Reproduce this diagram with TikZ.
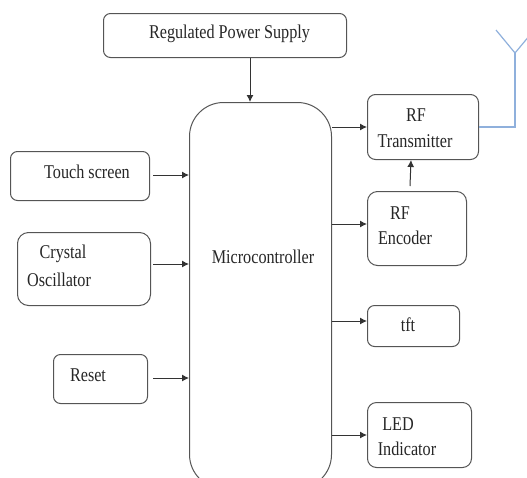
\documentclass[tikz,border=0pt]{standalone}
\usepackage{fontspec}
\setmainfont{Liberation Serif}
\usetikzlibrary{arrows.meta}
\definecolor{edge}{HTML}{555555}
\definecolor{ant}{HTML}{8FB0DC}
\tikzset{
  blk/.style={draw=edge,line width=1pt,rounded corners=#1,inner sep=0pt,anchor=north west},
  blk/.default=7pt,
  lab/.style={inner sep=0pt,font=\fontsize{19.5}{21}\selectfont,text=black!85,xscale=0.83,align=left},
  arr/.style={draw=black!80,line width=1pt,-{Latex[length=7pt,width=7pt]}},
  antenna/.style={draw=ant,line width=1.2pt}
}
\begin{document}
\begin{tikzpicture}[x=1pt,y=-1pt]
\useasboundingbox (0,0) rectangle (527,477);
\clip (0,0) rectangle (527,477);
\node[blk,minimum width=243pt,minimum height=44pt] (power) at (103,13) {};
\node[blk=34pt,minimum width=142pt,minimum height=386pt] (mcu) at (189,102) {};
\node[blk,minimum width=139pt,minimum height=49pt] (touch) at (10,151) {};
\node[blk=11pt,minimum width=133pt,minimum height=73pt] (crystal) at (17,232) {};
\node[blk,minimum width=94pt,minimum height=49pt] (reset) at (53,354) {};
\node[blk=8pt,minimum width=111pt,minimum height=65pt] (tx) at (367,94) {};
\node[blk=10pt,minimum width=99pt,minimum height=74pt] (enc) at (367,191) {};
\node[blk,minimum width=92pt,minimum height=41pt] (tft) at (367,305) {};
\node[blk=9pt,minimum width=104pt,minimum height=65pt] (led) at (367,402) {};

\node[lab] (tpower) at (229.5,34) {Regulated Power Supply};
\node[lab] (tmcu) at (263,257) {Microcontroller};
\node[lab] (ttouch) at (87,172) {Touch screen};
\node[lab] (tcry1) at (63,254) {Crystal};
\node[lab] (tcry2) at (59,280) {Oscillator};
\node[lab] (treset) at (88,375) {Reset};
\node[lab] (ttx1) at (416,115) {RF};
\node[lab] (ttx2) at (415,141) {Transmitter};
\node[lab] (tenc1) at (400,213) {RF};
\node[lab] (tenc2) at (405,238) {Encoder};
\node[lab] (ttft) at (408,325) {tft};
\node[lab] (tled1) at (398,424) {LED};
\node[lab] (tled2) at (407,449) {Indicator};

\coordinate (pwx) at (250,0);
\coordinate (encup) at (410,186);
\coordinate (txlow) at (411,0);
\coordinate (ytouch) at (0,175);
\coordinate (ycry) at (0,264);
\coordinate (yreset) at (0,378);
\coordinate (ytx) at (0,127);
\coordinate (yenc) at (0,224);
\coordinate (ytft) at (0,321);
\coordinate (yled) at (0,435);
\draw[arr] (pwx |- power.south) -- (pwx |- mcu.north);
\draw[arr] ([xshift=3pt]touch.east |- ytouch) -- (mcu.west |- ytouch);
\draw[arr] ([xshift=2pt]crystal.east |- ycry) -- (mcu.west |- ycry);
\draw[arr] ([xshift=5pt]reset.east |- yreset) -- (mcu.west |- yreset);
\draw[arr] (mcu.east |- ytx) -- (tx.west |- ytx);
\draw[arr] (mcu.east |- yenc) -- (enc.west |- yenc);
\draw[arr] (mcu.east |- ytft) -- (tft.west |- ytft);
\draw[arr] (mcu.east |- yled) -- (led.west |- yled);
\draw[arr] (encup) -- (txlow |- tx.south);
\coordinate (antbase) at (515,53);
\coordinate (antl) at (496,30);
\coordinate (antr) at (530,35);
\draw[antenna] (tx.east) -- (antbase |- tx.east) -- (antbase);
\draw[antenna] (antl) -- (antbase) -- (antr);
\end{tikzpicture}
\end{document}
